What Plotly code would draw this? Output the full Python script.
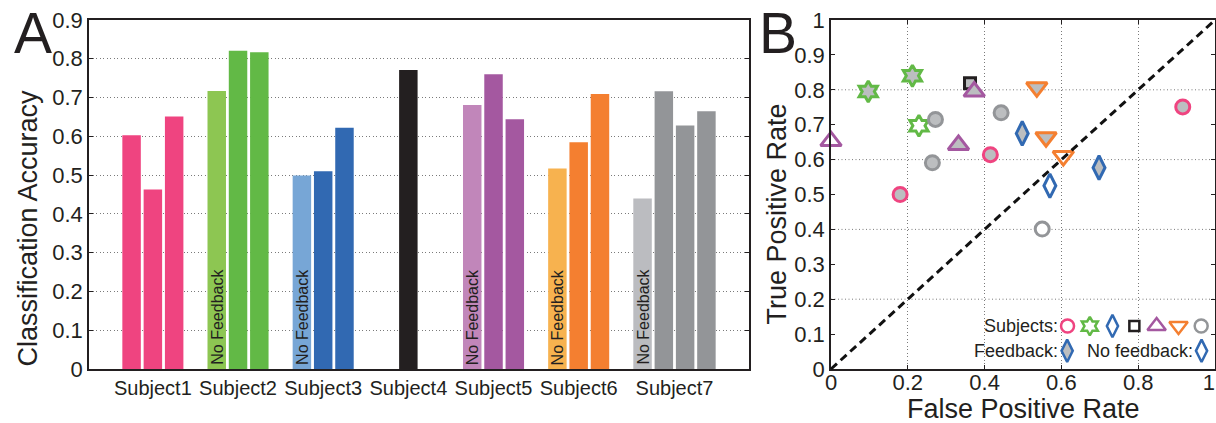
import numpy as np
import plotly.graph_objects as go

# ---------------- data ----------------
subjects = ["Subject1", "Subject2", "Subject3", "Subject4", "Subject5", "Subject6", "Subject7"]
accuracy = [
    [0.603, 0.463, 0.651],
    [0.717, 0.821, 0.817],
    [0.499, 0.510, 0.622],
    [0.771],
    [0.681, 0.760, 0.644],
    [0.517, 0.585, 0.709],
    [0.440, 0.716, 0.628, 0.665],
]
first_bar_no_feedback = [False, True, True, False, True, True, True]
main_colors = ["#EF4480", "#62B946", "#3169B2", "#231F20", "#A458A0", "#F47F30", "#939598"]
light_colors = ["#EF4480", "#8DC652", "#77A6D6", "#231F20", "#C186BA", "#F7B24F", "#BBBCC0"]

fpr = [
    [0.180, 0.415, 0.916],
    [0.097, 0.212, 0.229],
    [0.498, 0.698, 0.570],
    [0.362],
    [0.000, 0.332, 0.373],
    [0.536, 0.560, 0.605],
    [0.272, 0.264, 0.443, 0.550],
]
tpr = [
    [0.500, 0.614, 0.751],
    [0.795, 0.840, 0.697],
    [0.675, 0.577, 0.525],
    [0.819],
    [0.653, 0.642, 0.795],
    [0.807, 0.664, 0.610],
    [0.715, 0.591, 0.734, 0.401],
]
point_feedback = [
    [True, True, True],
    [True, True, False],
    [True, True, False],
    [True],
    [False, True, True],
    [True, True, False],
    [True, True, True, False],
]
symbols = ["circle", "hexagram", "diamond-tall", "square", "triangle-up", "triangle-down", "circle"]
marker_sizes = [14, 16, 17, 11, 18, 18, 14]

fpr_ticks = [0, 0.2, 0.4, 0.6, 0.8, 1]
fpr_tick_labels = ["0", "0.2", "0.4", "0.6", "0.8", "1\u00a0\u00a0"]

# ---------------- styling ----------------
W, H = 1216, 423
FONT = "Liberation Sans, Arial, Helvetica, sans-serif"
INK = "#231F20"
GRID = "#7A7A7A"
GRID_DASH = "1px,2.5px"
FB_FILL = "#BCBEC0"
NOFB_FILL = "#FFFFFF"

def px_x(p):
    return p / W

def px_y(p):
    return 1 - p / H

A_dom_x = [px_x(89), px_x(749)]
B_dom_x = [px_x(831), px_x(1215)]
dom_y = [px_y(369), px_y(20)]

fig = go.Figure()
ann = []

def text_ann(txt, x, y, size, angle=0, xanchor="center", yanchor="middle",
             xref="paper", yref="paper", yshift=0):
    ann.append(dict(text=txt, x=x, y=y, xref=xref, yref=yref, showarrow=False,
                    textangle=angle, xanchor=xanchor, yanchor=yanchor, yshift=yshift,
                    font=dict(family=FONT, size=size, color=INK)))

# ---------------- panel A : bars ----------------
step = 0.25
bar_w = 0.217
tick_pos = []
for i, (name, vals) in enumerate(zip(subjects, accuracy)):
    n = len(vals)
    centre = i + 1
    start = centre - step if n > 1 else centre
    xs = [start + step * k for k in range(n)]
    tick_pos.append(float(np.mean(xs)))
    colors = [main_colors[i]] * n
    if first_bar_no_feedback[i]:
        colors[0] = light_colors[i]
        text_ann("No Feedback", xs[0], 0, 16, angle=-90, yanchor="bottom",
                 xref="x", yref="y", yshift=2)
    fig.add_trace(go.Bar(
        x=xs, y=vals, width=bar_w,
        marker=dict(color=colors, line=dict(width=0)),
        xaxis="x", yaxis="y", showlegend=False, hoverinfo="skip",
    ))

# ---------------- panel B : scatter ----------------
for i in range(len(subjects)):
    fills = [FB_FILL if f else NOFB_FILL for f in point_feedback[i]]
    fig.add_trace(go.Scatter(
        x=fpr[i], y=tpr[i], mode="markers",
        marker=dict(symbol=symbols[i], size=marker_sizes[i], color=fills,
                    line=dict(color=main_colors[i], width=3)),
        xaxis="x2", yaxis="y2", showlegend=False, cliponaxis=False, hoverinfo="skip",
    ))

# legend glyphs (layout positions inside panel B)
leg_x = [0.616, 0.674, 0.733, 0.790, 0.848, 0.905, 0.964]
leg_sizes = [13, 14, 16, 10, 16, 16, 13]
for i in range(len(subjects)):
    fig.add_trace(go.Scatter(
        x=[leg_x[i]], y=[0.123], mode="markers",
        marker=dict(symbol=symbols[i], size=leg_sizes[i], color=NOFB_FILL,
                    line=dict(color=main_colors[i], width=2.5)),
        xaxis="x2", yaxis="y2", showlegend=False, cliponaxis=False, hoverinfo="skip",
    ))
for xx, fill in [(0.615, FB_FILL), (0.965, NOFB_FILL)]:
    fig.add_trace(go.Scatter(
        x=[xx], y=[0.052], mode="markers",
        marker=dict(symbol="diamond-tall", size=16, color=fill,
                    line=dict(color=main_colors[2], width=2.5)),
        xaxis="x2", yaxis="y2", showlegend=False, cliponaxis=False, hoverinfo="skip",
    ))

# grid lines for B y (every 0.2) and diagonal
shapes = []
for g in [0.2, 0.4, 0.6, 0.8]:
    shapes.append(dict(type="line", xref="x2 domain", yref="y2", x0=0, x1=1, y0=g, y1=g,
                       line=dict(color=GRID, width=1, dash=GRID_DASH), layer="below"))
shapes.append(dict(type="line", xref="x2 domain", yref="y2 domain", x0=0, y0=0, x1=1, y1=1,
                   line=dict(color="#111111", width=3, dash="8px,5px"), layer="above"))

def axis(**kw):
    base = dict(showline=True, linecolor=INK, linewidth=1.5, mirror=True,
                tickfont=dict(family=FONT, size=22, color=INK), zeroline=False,
                automargin=False, ticklabeloverflow="allow")
    base.update(kw)
    return base

fig.update_layout(
    width=W, height=H,
    margin=dict(l=0, r=0, t=0, b=0),
    paper_bgcolor="white", plot_bgcolor="white",
    barmode="overlay",
    font=dict(family=FONT, color=INK),
    xaxis=axis(domain=A_dom_x, anchor="y", range=[0.25, 8.0],
               tickvals=tick_pos, ticktext=subjects, ticks="", showgrid=False,
               tickfont=dict(family=FONT, size=20, color=INK)),
    yaxis=axis(domain=dom_y, anchor="x", range=[0, 0.9], dtick=0.1,
               ticks="inside", ticklen=4, tickcolor=INK, mirror="ticks",
               showgrid=True, gridcolor=GRID, griddash=GRID_DASH, gridwidth=1),
    xaxis2=axis(domain=B_dom_x, anchor="y2", range=[0, 1],
                tickvals=fpr_ticks, ticktext=fpr_tick_labels,
                ticks="inside", ticklen=4, tickcolor=INK, mirror="ticks",
                showgrid=True, gridcolor=GRID, griddash=GRID_DASH, gridwidth=1,
                ticklabelstandoff=-7,
                tickfont=dict(family=FONT, size=22, color=INK)),
    yaxis2=axis(domain=dom_y, anchor="x2", range=[0, 1], dtick=0.1,
                ticks="inside", ticklen=4, tickcolor=INK, mirror="ticks", showgrid=False,
                tickfont=dict(family=FONT, size=22, color=INK)),
    shapes=shapes,
)

text_ann("A", px_x(32.5), px_y(33), 57)
text_ann("B", px_x(777.5), px_y(33), 57)
text_ann("Classification Accuracy", px_x(27.6), px_y(228), 27, angle=-90)
text_ann("True Positive Rate", px_x(776), px_y(214.5), 27, angle=-90)
text_ann("False Positive Rate", px_x(1023), px_y(409), 27)
text_ann("Subjects:", 0.597, 0.123, 18, xanchor="right", xref="x2", yref="y2")
text_ann("Feedback:", 0.597, 0.052, 18, xanchor="right", xref="x2", yref="y2")
text_ann("No feedback:", 0.947, 0.052, 18, xanchor="right", xref="x2", yref="y2")
fig.update_layout(annotations=ann)

fig.write_html(
    "out.html",
    config={"displayModeBar": False},
    post_script="document.body.style.margin='0';document.body.style.padding='0';"
                "document.body.style.overflow='hidden';",
)
